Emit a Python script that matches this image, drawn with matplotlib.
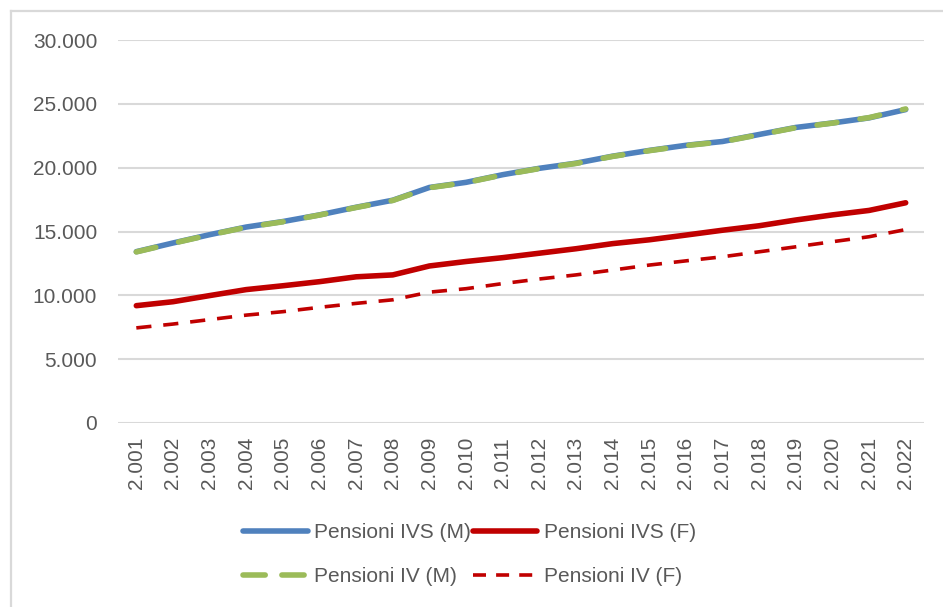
import matplotlib
matplotlib.use("Agg")
import matplotlib.pyplot as plt
from matplotlib.lines import Line2D
from matplotlib.ticker import FuncFormatter

# ── Data ──────────────────────────────────────────────────────────────────────
years = list(range(2001, 2023))

ivs_m = [13420, 14100, 14750, 15350, 15780, 16300, 16900, 17450, 18450, 18850, 19450,
         19950, 20350, 20900, 21350, 21750, 22050, 22600, 23150, 23500, 23900, 24550]
ivs_f = [9190, 9500, 9980, 10450, 10750, 11070, 11450, 11600, 12300, 12650, 12950,
         13300, 13650, 14050, 14350, 14720, 15100, 15450, 15900, 16300, 16650, 17250]
iv_m = [13400, 14080, 14730, 15330, 15760, 16290, 16880, 17430, 18430, 18830, 19430,
        19930, 20330, 20880, 21330, 21730, 22030, 22580, 23130, 23490, 23920, 24600]
iv_f = [7450, 7750, 8100, 8450, 8720, 9060, 9370, 9650, 10250, 10520, 10920,
        11280, 11600, 11980, 12370, 12700, 13020, 13410, 13800, 14200, 14590, 15150]

labels = ["Pensioni IVS (M)", "Pensioni IVS (F)", "Pensioni IV (M)", "Pensioni IV (F)"]

# ── Style ─────────────────────────────────────────────────────────────────────
BLUE = "#4F81BD"
RED = "#C00000"
GREEN = "#9BBB59"
TEXT = "#595959"
GRID = "#D9D9D9"

plt.rcParams.update({
    "font.family": ["Liberation Sans", "DejaVu Sans"],
    "font.size": 15,
})


def it_thousands(v, pos=None):
    return f"{int(round(v)):,}".replace(",", ".")


fig = plt.figure(figsize=(9.43, 6.07), dpi=100)
ax = fig.add_axes([118 / 943, 1 - 423 / 607, 806 / 943, 383 / 607])

x = list(range(len(years)))

ax.plot(x, ivs_m, color=BLUE, lw=4.0, solid_capstyle="round", zorder=3)
ax.plot(x, ivs_f, color=RED, lw=4.0, solid_capstyle="round", zorder=3)
ax.plot(x, iv_m, color=GREEN, lw=4.0, dashes=(3.6, 4.2),
        dash_capstyle="round", zorder=4)
ax.plot(x, iv_f, color=RED, lw=2.6, dashes=(4.2, 3.3), zorder=4)

ax.set_xlim(-0.5, len(years) - 0.5)
ax.set_ylim(0, 30000)
ax.set_yticks(range(0, 30001, 5000))
ax.yaxis.set_major_formatter(FuncFormatter(it_thousands))
ax.set_xticks(x)
ax.set_xticklabels([it_thousands(y) for y in years], rotation=90)

ax.yaxis.grid(True, color=GRID, linewidth=1.5)
ax.set_axisbelow(True)
for s in ax.spines.values():
    s.set_visible(False)
ax.tick_params(axis="both", length=0, colors=TEXT, labelsize=15)
ax.tick_params(axis="y", pad=15)
ax.tick_params(axis="x", pad=10)

# ── Legend ────────────────────────────────────────────────────────────────────
handles = [
    Line2D([0], [0], color=BLUE, lw=4.0, solid_capstyle="round", label=labels[0]),
    Line2D([0], [0], color=GREEN, lw=4.0, dashes=(4.0, 3.0),
           dash_capstyle="round", label=labels[2]),
    Line2D([0], [0], color=RED, lw=4.0, solid_capstyle="round", label=labels[1]),
    Line2D([0], [0], color=RED, lw=2.6, dashes=(3.6, 2.8), label=labels[3]),
]
leg = fig.legend(handles=handles, ncol=2, loc="upper left",
                 bbox_to_anchor=(243 / 943, 1 - 523 / 607),
                 frameon=False, borderpad=0, borderaxespad=0,
                 handlelength=3.1, handletextpad=0.3, columnspacing=0.1,
                 labelspacing=1.2, fontsize=15)
for t in leg.get_texts():
    t.set_color(TEXT)

# ── Outer frame (left and top edges) ──────────────────────────────────────────
fig.add_artist(Line2D([11 / 943, 11 / 943], [0, 1 - 11 / 607],
                      color=GRID, lw=1.6, transform=fig.transFigure))
fig.add_artist(Line2D([11 / 943, 1], [1 - 11 / 607, 1 - 11 / 607],
                      color=GRID, lw=1.6, transform=fig.transFigure))

fig.savefig("out.png", dpi=100, facecolor="white")
